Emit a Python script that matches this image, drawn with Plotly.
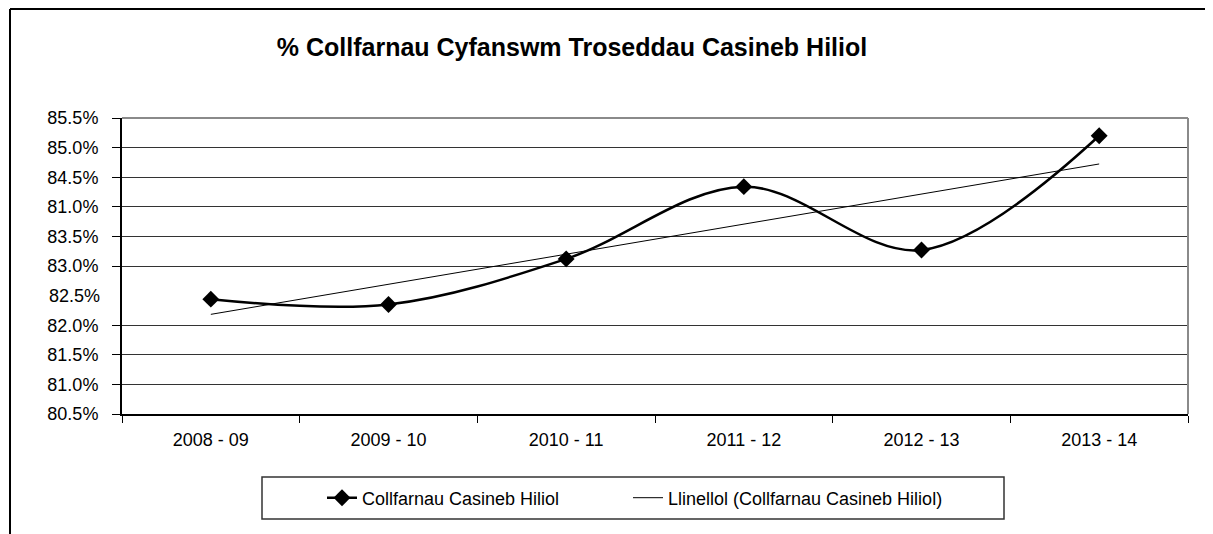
import numpy as np
import plotly.graph_objects as go

categories = ["2008 - 09", "2009 - 10", "2010 - 11", "2011 - 12", "2012 - 13", "2013 - 14"]
conviction_pct = [82.44, 82.35, 83.12, 84.34, 83.27, 85.20]
series_name = "Collfarnau Casineb Hiliol"
trend_name = "Llinellol (Collfarnau Casineb Hiliol)"
title_text = "% Collfarnau Cyfanswm Troseddau Casineb Hiliol"
ytick_vals = [80.5, 81.0, 81.5, 82.0, 83.0, 83.5, 84.0, 84.5, 85.0, 85.5]
ytick_text = ["80.5%", "81.0%", "81.5%", "82.0%", "83.0%", "83.5%", "81.0%", "84.5%", "85.0%", "85.5%"]
unticked_val = 82.5
unticked_text = "82.5%"

# linear trendline (Excel-style) from the series
xi = np.arange(1, len(conviction_pct) + 1)
slope, intercept = np.polyfit(xi, conviction_pct, 1)
trend = list(slope * xi + intercept)

FONT = "Liberation Sans, Arial, sans-serif"
OFF = 8  # default page body margin
PAGE_W, PAGE_H = 1213, 534
W, H = PAGE_W - OFF, PAGE_H - OFF
# plot area in page pixels
PL, PR, PT, PB = 122, 1188, 118, 414
L, R, T, B = PL - OFF, W - (PR - OFF), PT - OFF, H - (PB - OFF)
pw, ph = W - L - R, H - T - B

def px(xpage):
    return (xpage - PL) / pw

def py(ypage):
    return (PB - ypage) / ph

fig = go.Figure()
fig.add_trace(go.Scatter(
    x=categories, y=conviction_pct, name=series_name, legend="legend",
    showlegend=True, mode="lines+markers",
    line=dict(color="black", width=2.5, shape="spline", smoothing=1.0),
    marker=dict(symbol="diamond", size=13, color="black"),
))
fig.add_trace(go.Scatter(
    x=categories, y=trend, name=trend_name, legend="legend2",
    showlegend=True, mode="lines", line=dict(color="black", width=1),
))

shapes = [
    # plot area top and right border (gray)
    dict(type="line", xref="paper", yref="paper", x0=0, x1=1, y0=1, y1=1,
         line=dict(color="#8a8a8a", width=2), layer="above"),
    dict(type="line", xref="paper", yref="paper", x0=1, x1=1, y0=0, y1=1,
         line=dict(color="#8a8a8a", width=2), layer="above"),
    # outer chart frame (top and left)
    dict(type="line", xref="paper", yref="paper", x0=px(10), x1=px(PAGE_W + 5), y0=py(9), y1=py(9),
         line=dict(color="black", width=2)),
    dict(type="line", xref="paper", yref="paper", x0=px(10), x1=px(10), y0=py(9), y1=py(PAGE_H + 5),
         line=dict(color="black", width=2)),
    # legend box
    dict(type="rect", xref="paper", yref="paper", x0=px(262), x1=px(1004), y0=py(519), y1=py(477),
         line=dict(color="#333", width=1.5)),
]

legend_common = dict(
    orientation="h", xanchor="left", yanchor="middle", y=py(498),
    font=dict(family=FONT, size=18, color="black"),
    bgcolor="rgba(0,0,0,0)", borderwidth=0, visible=True,
)

fig.update_layout(
    width=W, height=H,
    showlegend=True,
    margin=dict(l=L, r=R, t=T, b=B),
    paper_bgcolor="white", plot_bgcolor="white",
    font=dict(family=FONT, color="black", size=16),
    title=dict(text="<b>" + title_text + "</b>", x=(572 - OFF) / W, xanchor="center",
               xref="container", y=1 - (47 - OFF) / H, yanchor="middle", yref="container",
               font=dict(family=FONT, size=25, color="black")),
    xaxis=dict(
        type="category", range=[-0.5, len(categories) - 0.5],
        tickson="boundaries", ticks="outside", ticklen=7, tickcolor="black", tickwidth=1,
        showgrid=False, showline=True, linecolor="black", linewidth=2,
        tickfont=dict(family=FONT, size=18, color="black"), zeroline=False,
        ticklabelstandoff=8,
    ),
    yaxis=dict(
        range=[80.5, 85.5], tickvals=ytick_vals, ticktext=ytick_text,
        ticks="outside", ticklen=8, tickcolor="black", tickwidth=1,
        showgrid=True, gridcolor="#333333", gridwidth=1,
        showline=True, linecolor="black", linewidth=2, zeroline=False,
        tickfont=dict(family=FONT, size=18, color="black"),
        ticklabelstandoff=10,
    ),
    legend=dict(x=px(322), **legend_common),
    legend2=dict(x=px(628), **legend_common),
    shapes=shapes,
    annotations=[dict(
        x=0, xref="paper", y=unticked_val, yref="y", text=unticked_text,
        xanchor="right", xshift=-20, showarrow=False,
        font=dict(family=FONT, size=18, color="black"),
    )],
)

fig.write_html("out.html")
